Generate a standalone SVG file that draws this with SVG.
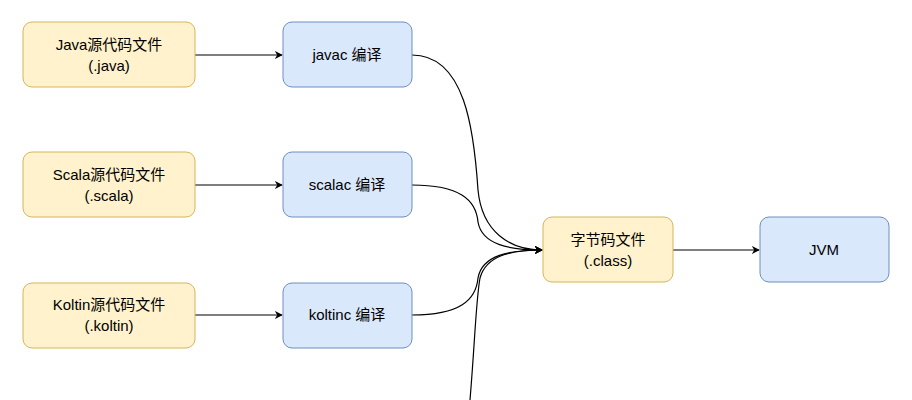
<svg xmlns="http://www.w3.org/2000/svg" width="912" height="400" viewBox="0 0 912 400">
<style>
.y{fill:#fff2cc;stroke:#d6b656;stroke-width:1}
.b{fill:#dae8fc;stroke:#6c8ebf;stroke-width:1}
text{font-family:"Liberation Sans","Noto Sans CJK SC",sans-serif;font-size:15px;fill:#000;text-anchor:middle}
.c{fill:none;stroke:#000;stroke-width:1.2}
</style>
<defs><marker id="a" viewBox="0 0 10 10" refX="9" refY="5" markerWidth="8" markerHeight="8" markerUnits="userSpaceOnUse" orient="auto"><path d="M0,0L10,5L0,10L3,5z" fill="#000"/></marker></defs>
<rect width="912" height="400" fill="#fff"/>
<g id="connectors">
<path class="c" marker-end="url(#a)" d="M195,55H282"/>
<path class="c" marker-end="url(#a)" d="M195,185H282"/>
<path class="c" marker-end="url(#a)" d="M195,315H282"/>
<path class="c" marker-end="url(#a)" d="M673,250H759"/>
<path class="c" marker-end="url(#a)" d="M412,55C465,55 474,130 478,190C482,232 510,250 542,250"/>
<path class="c" marker-end="url(#a)" d="M412,185C460,185 476,200 478,222C482,245 510,250 542,250"/>
<path class="c" marker-end="url(#a)" d="M412,315C460,315 476,300 478,278C482,255 510,250 542,250"/>
<path class="c" marker-end="url(#a)" d="M470,400C475,340 476,300 480,278C486,256 510,250 542,250"/>
</g>
<g id="java"><rect class="y" x="23" y="22" width="172" height="65" rx="9"/><text x="109" y="50">Java源代码文件</text><text x="109" y="71">(.java)</text></g>
<g id="scala"><rect class="y" x="23" y="152" width="172" height="65" rx="9"/><text x="109" y="180">Scala源代码文件</text><text x="109" y="201">(.scala)</text></g>
<g id="koltin"><rect class="y" x="23" y="283" width="172" height="65" rx="9"/><text x="109" y="310">Koltin源代码文件</text><text x="109" y="331">(.koltin)</text></g>
<g id="javac"><rect class="b" x="283" y="22" width="129" height="65" rx="9"/><text x="347" y="60">javac 编译</text></g>
<g id="scalac"><rect class="b" x="283" y="152" width="129" height="65" rx="9"/><text x="347" y="190">scalac 编译</text></g>
<g id="koltinc"><rect class="b" x="283" y="283" width="129" height="65" rx="9"/><text x="347" y="320">koltinc 编译</text></g>
<g id="class"><rect class="y" x="543" y="217" width="130" height="65" rx="9"/><text x="608" y="245">字节码文件</text><text x="608" y="266">(.class)</text></g>
<g id="jvm"><rect class="b" x="760" y="217" width="129" height="65" rx="9"/><text x="824" y="255">JVM</text></g>
</svg>
